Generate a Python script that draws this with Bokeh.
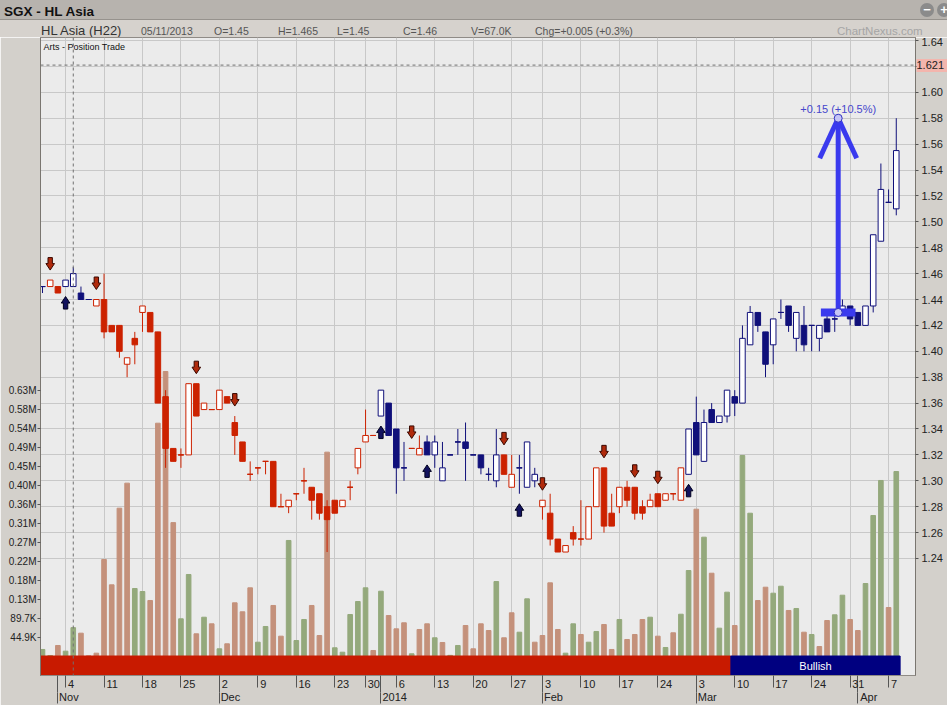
import pandas as pd
from bokeh.plotting import figure
from bokeh.layouts import column
from bokeh.models import (Range1d, LinearAxis, FixedTicker, NumeralTickFormatter, Span, Div)
from bokeh.core.properties import value
from bokeh.embed import file_html
from bokeh.resources import INLINE

# ---------------- data ----------------
exchange = "SGX"
stock = "HL Asia"
code = "H22"
indicator = "Arts - Position Trade"
watermark = "ChartNexus.com"

holidays = ["2013-12-25", "2014-01-01", "2014-01-31"]
dates = [d for d in pd.bdate_range("2013-10-30", "2014-04-08")
         if d.strftime("%Y-%m-%d") not in holidays]

opens = [1.45, 1.45, 1.45, 1.45, 1.45, 1.445, 1.44, 1.435, 1.44, 1.42,
         1.42, 1.39, 1.41, 1.43, 1.43, 1.415, 1.365, 1.325, 1.32, 1.32,
         1.375, 1.355, 1.355, 1.355, 1.365, 1.345, 1.33, 1.305, 1.31, 1.315,
         1.315, 1.28, 1.28, 1.29, 1.30, 1.295, 1.29, 1.28, 1.285, 1.28,
         1.295, 1.31, 1.33, 1.335, 1.35, 1.36, 1.34, 1.31, 1.325, 1.32,
         1.33, 1.32, 1.30, 1.32, 1.33, 1.33, 1.32, 1.32, 1.305, 1.30,
         1.32, 1.295, 1.31, 1.295, 1.30, 1.28, 1.275, 1.255, 1.245, 1.26,
         1.255, 1.255, 1.28, 1.31, 1.275, 1.28, 1.295, 1.295, 1.28, 1.28,
         1.29, 1.285, 1.29, 1.285, 1.305, 1.345, 1.315, 1.355, 1.345, 1.35,
         1.365, 1.36, 1.405, 1.43, 1.415, 1.405, 1.43, 1.435, 1.41, 1.42,
         1.42, 1.41, 1.425, 1.425, 1.43, 1.435, 1.43, 1.42, 1.435, 1.485,
         1.515, 1.51]
highs = [1.45, 1.455, 1.45, 1.455, 1.465, 1.45, 1.44, 1.44, 1.46, 1.42,
         1.42, 1.395, 1.415, 1.435, 1.43, 1.415, 1.37, 1.325, 1.325, 1.375,
         1.375, 1.36, 1.355, 1.37, 1.365, 1.35, 1.33, 1.315, 1.31, 1.315,
         1.315, 1.29, 1.285, 1.29, 1.31, 1.295, 1.29, 1.285, 1.285, 1.285,
         1.30, 1.325, 1.355, 1.335, 1.37, 1.36, 1.34, 1.33, 1.325, 1.335,
         1.335, 1.335, 1.33, 1.32, 1.34, 1.345, 1.32, 1.32, 1.31, 1.34,
         1.32, 1.32, 1.32, 1.33, 1.31, 1.285, 1.29, 1.255, 1.25, 1.265,
         1.285, 1.28, 1.31, 1.31, 1.29, 1.295, 1.30, 1.295, 1.285, 1.29,
         1.29, 1.29, 1.29, 1.31, 1.34, 1.365, 1.355, 1.36, 1.35, 1.37,
         1.37, 1.42, 1.435, 1.43, 1.415, 1.425, 1.44, 1.435, 1.43, 1.435,
         1.42, 1.42, 1.43, 1.43, 1.44, 1.435, 1.43, 1.435, 1.49, 1.545,
         1.525, 1.58]
lows = [1.445, 1.45, 1.445, 1.45, 1.45, 1.44, 1.44, 1.435, 1.41, 1.415,
        1.395, 1.38, 1.39, 1.415, 1.415, 1.36, 1.31, 1.315, 1.31, 1.32,
        1.35, 1.355, 1.355, 1.355, 1.36, 1.32, 1.315, 1.30, 1.305, 1.305,
        1.28, 1.28, 1.275, 1.285, 1.29, 1.27, 1.27, 1.245, 1.275, 1.28,
        1.285, 1.305, 1.33, 1.335, 1.35, 1.335, 1.29, 1.30, 1.325, 1.32,
        1.32, 1.31, 1.30, 1.32, 1.32, 1.30, 1.32, 1.305, 1.30, 1.295,
        1.305, 1.295, 1.29, 1.295, 1.295, 1.27, 1.25, 1.245, 1.245, 1.25,
        1.25, 1.255, 1.28, 1.26, 1.265, 1.275, 1.28, 1.27, 1.27, 1.28,
        1.28, 1.285, 1.285, 1.285, 1.305, 1.32, 1.315, 1.345, 1.345, 1.345,
        1.35, 1.36, 1.405, 1.415, 1.38, 1.39, 1.425, 1.415, 1.40, 1.40,
        1.40, 1.40, 1.415, 1.415, 1.43, 1.42, 1.42, 1.42, 1.43, 1.485,
        1.515, 1.505]
closes = [1.45, 1.455, 1.445, 1.455, 1.46, 1.44, 1.44, 1.44, 1.415, 1.415,
          1.40, 1.395, 1.405, 1.435, 1.415, 1.36, 1.325, 1.315, 1.32, 1.375,
          1.35, 1.36, 1.355, 1.37, 1.36, 1.335, 1.315, 1.305, 1.31, 1.315,
          1.28, 1.28, 1.285, 1.29, 1.30, 1.285, 1.275, 1.27, 1.275, 1.285,
          1.295, 1.325, 1.335, 1.335, 1.37, 1.335, 1.31, 1.31, 1.325, 1.325,
          1.32, 1.33, 1.31, 1.32, 1.33, 1.325, 1.32, 1.31, 1.305, 1.32,
          1.305, 1.305, 1.31, 1.33, 1.305, 1.285, 1.255, 1.245, 1.25, 1.255,
          1.255, 1.28, 1.31, 1.265, 1.265, 1.295, 1.285, 1.275, 1.275, 1.285,
          1.28, 1.29, 1.29, 1.31, 1.34, 1.32, 1.345, 1.345, 1.35, 1.37,
          1.36, 1.41, 1.43, 1.42, 1.39, 1.425, 1.43, 1.42, 1.43, 1.405,
          1.42, 1.42, 1.415, 1.425, 1.435, 1.425, 1.42, 1.435, 1.49, 1.525,
          1.515, 1.555]
volumes = [15400, 1200, 24800, 11400, 67000, 53900, 0, 6700, 227900, 168100,
           349100, 408200, 159400, 152300, 131100, 549800, 671900, 315000, 87800, 192500,
           52400, 91600, 76000, 17000, 28800, 125600, 104400, 161000, 32600, 69700,
           119300, 46800, 272800, 36600, 86200, 119300, 48400, 481400, 19400, 9000,
           98000, 128700, 161000, 13000, 153000, 95600, 64200, 78400, 5200, 62600,
           76000, 43000, 31900, 1500, 24800, 72000, 17000, 76000, 60200, 175900,
           43000, 102000, 56200, 135000, 32600, 48400, 172800, 62600, 6700, 76000,
           50800, 32600, 57900, 74400, 15400, 86200, 39000, 50800, 86200, 91600,
           46800, 20100, 54800, 98700, 201900, 346700, 280600, 195500, 65700, 150700,
           72000, 473500, 337200, 131000, 162500, 148300, 164800, 107500, 112200, 56200,
           50800, 22400, 83800, 97300, 143600, 86200, 60200, 171200, 331800, 414500,
           114500, 435700]
# trend state per bar: B = bullish (navy), R = bearish (red)
trend = list("BRRBBBBRRR" "RRRRRRRRRR" "RRRRRRRRRR" "RRRRRRRRRR" "RRRRBBBBRR"
             "BBBBBBBBBB" "RRBBBRRRRR" "RRRRRRRRRR" "RRRRBBBBBB" "BBBBBBBBBB"
             "BBBBBBBBBB" "BB")
sell_dates = ["2013-10-31", "2013-11-08", "2013-11-27", "2013-12-04", "2014-01-08",
              "2014-01-24", "2014-02-03", "2014-02-13", "2014-02-19", "2014-02-24"]
buy_dates = ["2013-11-04", "2014-01-02", "2014-01-10", "2014-01-28", "2014-02-28"]
regime_names = ["", "Bullish"]
regime_starts = ["2013-10-30", "2014-03-10"]
price_ticks = [1.24, 1.26, 1.28, 1.30, 1.32, 1.34, 1.36, 1.38, 1.40, 1.42, 1.44,
               1.46, 1.48, 1.50, 1.52, 1.54, 1.56, 1.58, 1.60, 1.62, 1.64]
vol_step = 44870
vol_tick_labels = ["44.9K", "89.7K", "0.13M", "0.18M", "0.22M", "0.27M", "0.31M",
                   "0.36M", "0.40M", "0.45M", "0.49M", "0.54M", "0.58M", "0.63M"]
crosshair_date = "2013-11-05"
crosshair_price = 1.621
measure_dates = ["2014-03-25", "2014-03-31"]
measure_prices = [1.43, 1.58]

# ---------------- styling / layout ----------------
FONT = "Liberation Sans"
RED = "#cc2200"
NAVY = "#10107a"
GREEN = "#94a97c"
TAN = "#c4917b"
BLUE = "#3a3aee"
AXIS_BG = "#d3d0cb"

n = len(dates)
xs = list(range(n))
pos = {d.strftime("%Y-%m-%d"): i for i, d in enumerate(dates)}

W, H = 947, 668
L_B, R_B, B_B = 40, 31, 30
FRAME_W = W - L_B - R_B
FRAME_H = H - B_B
X0, X1 = -0.26, 113.5
P0, P1 = 1.14965, 1.64232
px_x = FRAME_W / (X1 - X0)
px_p = FRAME_H / (P1 - P0)
vol_px = vol_step / 19.0
V0 = -19.5 * vol_px
V1 = V0 + FRAME_H * vol_px

p = figure(width=W, height=H, x_range=Range1d(X0, X1), y_range=Range1d(P0, P1),
           y_axis_location="right", output_backend="svg", toolbar_location=None, tools="",
           min_border_left=L_B, min_border_right=R_B, min_border_top=0, min_border_bottom=B_B)
p.extra_y_ranges = {"vol": Range1d(V0, V1)}
p.background_fill_color = "#ebebeb"
p.border_fill_color = AXIS_BG
p.outline_line_color = "#8f8b86"

# volume
vol_col = [GREEN if i == 0 or closes[i] > closes[i - 1] else TAN for i in xs]
p.vbar(x=xs, top=volumes, bottom=0, width=0.6, color=vol_col, y_range_name="vol")

# regime band
r_left, r_right = [], []
for k, s in enumerate(regime_starts):
    r_left.append(pos[s] - 0.5)
    r_right.append(pos[regime_starts[k + 1]] - 0.5 if k + 1 < len(regime_starts) else n - 0.5)
p.quad(left=r_left, right=r_right, top=0, bottom=V0, color=["#c81a00", "#000080"],
       y_range_name="vol")
p.text(x=[(a + b) / 2 for a, b in zip(r_left, r_right)], y=[V0 / 2] * len(r_left),
       text=regime_names, text_color="white", text_font=value(FONT), text_font_size="11px",
       text_align="center", text_baseline="middle", y_range_name="vol")

# candles
col = [NAVY if t == "B" else RED for t in trend]
fill = [c if cl < op else "white" for c, op, cl in zip(col, opens, closes)]
p.segment(x0=xs, y0=lows, x1=xs, y1=highs, color=col, line_width=1)
p.vbar(x=xs, width=0.72, top=[max(o, c) for o, c in zip(opens, closes)],
       bottom=[min(o, c) for o, c in zip(opens, closes)],
       fill_color=fill, line_color=col, line_width=1)
flat = [i for i in xs if opens[i] == closes[i]]
p.segment(x0=[i - 0.36 for i in flat], y0=[opens[i] for i in flat],
          x1=[i + 0.36 for i in flat], y1=[opens[i] for i in flat],
          color=[col[i] for i in flat], line_width=1)

# signal arrows
shape = [(0, 0), (4.3, 6.5), (2.2, 6.5), (2.2, 12.5), (-2.2, 12.5), (-2.2, 6.5), (-4.3, 6.5)]


def arrows(ds, up):
    axs, ays = [], []
    for d in ds:
        i = pos[d]
        tip = lows[i] - 10 / px_p if up else highs[i] + 10 / px_p
        sgn = -1 if up else 1
        axs.append([i + dx / px_x for dx, dy in shape])
        ays.append([tip + sgn * dy / px_p for dx, dy in shape])
    return axs, ays


sx, sy = arrows(sell_dates, False)
p.patches(sx, sy, fill_color="#b02a0c", line_color="#3a0800", line_width=1)
bx, by = arrows(buy_dates, True)
p.patches(bx, by, fill_color="#12125e", line_color="#000020", line_width=1)

# measure annotation
mx0 = pos[measure_dates[0]] + 0.2
mx1 = pos[measure_dates[1]] + 0.7
mx = (mx0 + mx1) / 2
pa, pb = measure_prices
p.segment(x0=[mx0], y0=[pa], x1=[mx1], y1=[pa], color=BLUE, line_width=8)
p.segment(x0=[mx, mx, mx], y0=[pa, pb, pb],
          x1=[mx, mx - 18.5 / px_x, mx + 18.5 / px_x], y1=[pb, pb - 40 / px_p, pb - 40 / px_p],
          color=BLUE, line_width=5)
p.scatter(x=[mx, mx], y=[pa, pb], size=8, marker="circle", fill_color="#c4c4f6",
          line_color="#3030c0", line_width=1)
diff = pb - pa
p.text(x=[mx], y=[pb + 9 / px_p], text=[f"{diff:+.2f} ({diff / pa * 100:+.1f}%)"],
       text_color="#4646cc", text_font=value(FONT), text_font_size="11px",
       text_align="center", text_baseline="middle")

p.text(x=[X0 + 3 / px_x], y=[P1 - 9 / px_p], text=[indicator], text_color="#111111",
       text_font=value(FONT), text_font_size="9px", text_align="left", text_baseline="middle")

# crosshair
p.add_layout(Span(location=pos[crosshair_date], dimension="height", line_color="#707070",
                  line_dash="3 3", line_width=1))
p.add_layout(Span(location=crosshair_price, dimension="width", line_color="#707070",
                  line_dash="3 3", line_width=1))

# grids
mondays = [i for i, d in enumerate(dates) if d.weekday() == 0]
months = [i for i in xs[1:] if dates[i].month != dates[i - 1].month]
p.xgrid.ticker = FixedTicker(ticks=mondays)
p.ygrid.ticker = FixedTicker(ticks=price_ticks)
p.xgrid.grid_line_color = "#c8c8c8"
p.ygrid.grid_line_color = "#c8c8c8"


def style_axis(ax, size="11px"):
    ax.major_tick_in = 0
    ax.minor_tick_in = 0
    ax.major_tick_line_color = "#555555"
    ax.minor_tick_line_color = "#555555"
    ax.major_label_text_font = FONT
    ax.major_label_text_font_size = size
    ax.major_label_text_color = "#222222"
    ax.axis_line_color = "#7a7670"


# price axis (right); the crosshair price covers the 1.62 label
pax = p.yaxis[0]
style_axis(pax)
pax.ticker = FixedTicker(ticks=price_ticks)
pax.formatter = NumeralTickFormatter(format="0.00")
pax.major_label_overrides = {1.62: ""}
pax.major_tick_out = 3
pax.minor_tick_line_color = None
pax.major_label_standoff = 3

# crosshair price marker: a thick pink tick behind its label, pulled back over the price axis
cax = LinearAxis(ticker=FixedTicker(ticks=[crosshair_price]),
                 formatter=NumeralTickFormatter(format="0.000"))
style_axis(cax)
cax.major_tick_in = 29
cax.major_tick_out = 2
cax.major_tick_line_color = "#f3b5ad"
cax.major_tick_line_width = 13
cax.minor_tick_line_color = None
cax.axis_line_color = None
cax.major_label_standoff = -31
p.add_layout(cax, "right")

# volume axis (left)
vticks = [vol_step * (k + 1) for k in range(len(vol_tick_labels))]
vax = LinearAxis(y_range_name="vol", ticker=FixedTicker(ticks=vticks),
                 major_label_overrides=dict(zip(vticks, vol_tick_labels)))
style_axis(vax, "10px")
vax.major_tick_out = 3
vax.minor_tick_line_color = None
vax.major_label_standoff = 1
p.add_layout(vax, "left")


# date axes (below): labels sit right of their tick, as in the original
def pad(t):
    return "\u2002" * (len(t) + 1) + t


xax = p.xaxis[0]
style_axis(xax)
xax.ticker = FixedTicker(ticks=mondays, minor_ticks=months)
xax.major_label_overrides = {i: pad(str(dates[i].day)) for i in mondays}
xax.major_tick_out = 12
xax.minor_tick_out = 17
xax.major_label_standoff = -15
xax.axis_line_color = "#8f8b86"

max_ = LinearAxis(ticker=FixedTicker(ticks=months))
style_axis(max_)
max_.major_label_overrides = {i: pad(str(dates[i].year) if dates[i].month == 1
                                     else dates[i].strftime("%b")) for i in months}
max_.major_tick_out = 11
max_.minor_tick_line_color = None
max_.major_label_standoff = -13
max_.axis_line_color = None
p.add_layout(max_, "below")

# header
ci = pos[crosshair_date]
chg = closes[ci] - closes[ci - 1]
items = [(dates[ci].strftime("%d/%m/%Y"), 141), (f"O={opens[ci]:g}", 214),
         (f"H={highs[ci]:g}", 278), (f"L={lows[ci]:g}", 337), (f"C={closes[ci]:g}", 403),
         (f"V={volumes[ci] / 1000:.1f}K", 471),
         (f"Chg={chg:+.3f} ({chg / closes[ci - 1] * 100:+.1f}%)", 535)]
spans = "".join(f'<span style="position:absolute;left:{x}px;top:24px;font-size:10.5px;'
                f'color:#555;white-space:nowrap;">{t}</span>' for t, x in items)
header_html = (
    f'<div style="position:relative;width:947px;height:37px;overflow:hidden;'
    f"font-family:'{FONT}',Arial,sans-serif;background:#d6d2cd;\">"
    '<div style="position:absolute;left:0;top:0;width:947px;height:20px;'
    'background:#b7b3ae;border-bottom:1px solid #96928d;"></div>'
    f'<span style="position:absolute;left:4px;top:2px;font-size:13.5px;font-weight:bold;'
    f'color:#111;white-space:nowrap;">{exchange} - {stock}</span>'
    '<div style="position:absolute;left:920px;top:3px;width:14px;height:14px;'
    'border-radius:50%;background:#8b8b8b;color:#fff;font-size:13px;line-height:13px;'
    'text-align:center;font-weight:bold;">&minus;</div>'
    '<div style="position:absolute;left:937px;top:3px;width:14px;height:14px;'
    'border-radius:50%;background:#8b8b8b;color:#fff;font-size:13px;line-height:14px;'
    'text-align:center;font-weight:bold;">+</div>'
    f'<span style="position:absolute;left:41px;top:22px;font-size:13px;color:#333;'
    f'white-space:nowrap;">{stock} ({code})</span>'
    f'{spans}'
    f'<span style="position:absolute;left:837px;top:23px;font-size:11.5px;color:#a5a5a5;'
    f'white-space:nowrap;">{watermark}</span></div>')
header = Div(text=header_html, width=W, height=37, margin=0)

layout = column(header, p, spacing=0, margin=0)
open("out.html", "w").write(file_html(layout, INLINE))
